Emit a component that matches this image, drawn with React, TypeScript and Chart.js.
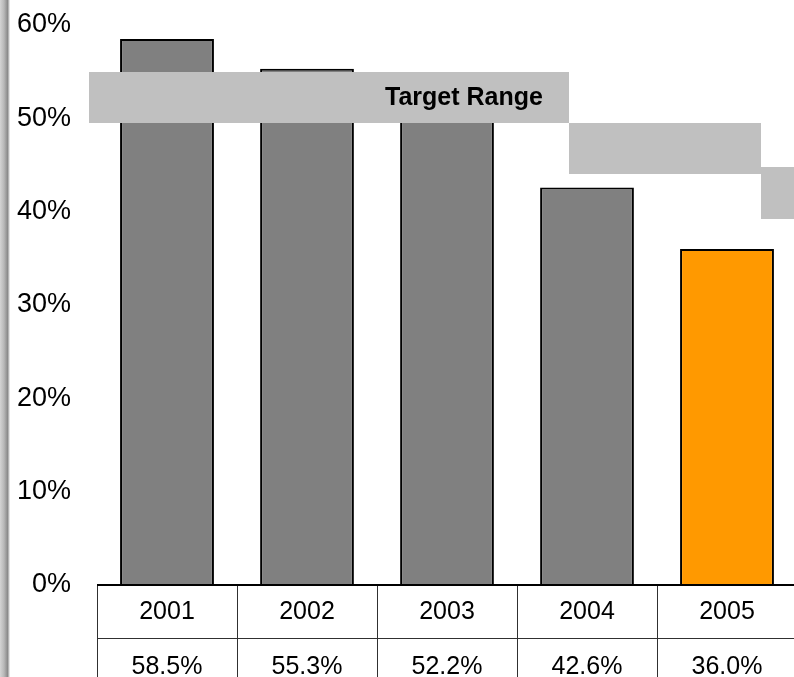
import React, { useEffect, useRef } from "react";
import { Chart, registerables } from "chart.js";

Chart.register(...registerables);

const years = ["2001", "2002", "2003", "2004", "2005"];
const shares = [58.5, 55.3, 52.2, 42.6, 36.0];
const barColors = ["#808080", "#808080", "#808080", "#808080", "#FF9900"];
const yTicks = [0, 10, 20, 30, 40, 50, 60];
const targetHigh = [55.0, 49.5, 44.8];
const targetLow = [49.5, 44.0, 39.2];
const targetLabel = "Target Range";

const FONT = "'Liberation Sans', Arial, Helvetica, sans-serif";

// band horizontal extents in category-value units (layout only)
const bandSpans: [number, number][] = [
  [-0.557, 2.871],
  [2.871, 4.243],
  [4.243, 5.5],
];

const overlayPlugin = {
  id: "overlay",
  afterDatasetsDraw(chart: any) {
    const { ctx, chartArea, scales } = chart;
    const x = scales.x;
    const y = scales.y;
    ctx.save();
    // target bands
    ctx.fillStyle = "#C0C0C0";
    targetHigh.forEach((hi, i) => {
      const x0 = x.getPixelForValue(bandSpans[i][0]);
      const x1 = x.getPixelForValue(bandSpans[i][1]);
      const y0 = y.getPixelForValue(hi);
      const y1 = y.getPixelForValue(targetLow[i]);
      ctx.fillRect(Math.round(x0), Math.round(y0), Math.round(x1 - x0), Math.round(y1 - y0));
    });
    // label
    ctx.fillStyle = "#000";
    ctx.font = `bold 25px ${FONT}`;
    ctx.textAlign = "center";
    ctx.textBaseline = "middle";
    const lx = (x.getPixelForValue(bandSpans[0][0]) + x.getPixelForValue(bandSpans[0][1])) / 2 + 135;
    const ly = (y.getPixelForValue(targetHigh[0]) + y.getPixelForValue(targetLow[0])) / 2;
    ctx.fillText(targetLabel, lx, ly + 1);

    // data table
    const bottom = chartArea.bottom;
    const rowH = 53;
    const left = chartArea.left;
    const step = x.getPixelForValue(1) - x.getPixelForValue(0);
    ctx.strokeStyle = "#303030";
    ctx.lineWidth = 1;
    ctx.beginPath();
    for (let i = 0; i <= years.length; i++) {
      const px = Math.round(left + step * i) + 0.5;
      ctx.moveTo(px, bottom);
      ctx.lineTo(px, bottom + rowH * 2 + 10);
    }
    ctx.moveTo(left, bottom + rowH + 0.5);
    ctx.lineTo(chartArea.right + 10, bottom + rowH + 0.5);
    ctx.stroke();
    // axis line
    ctx.strokeStyle = "#000";
    ctx.lineWidth = 2;
    ctx.beginPath();
    ctx.moveTo(left, bottom);
    ctx.lineTo(chartArea.right + 10, bottom);
    ctx.stroke();

    ctx.fillStyle = "#000";
    ctx.font = `25px ${FONT}`;
    years.forEach((yr, i) => {
      const cx = x.getPixelForValue(i);
      ctx.fillText(yr, cx, bottom + rowH / 2 + 1);
      ctx.fillText(shares[i].toFixed(1) + "%", cx, bottom + rowH + rowH / 2 + 3);
    });
    ctx.restore();
  },
};

export default function App() {
  const ref = useRef<HTMLCanvasElement | null>(null);
  useEffect(() => {
    if (!ref.current) return;
    const chart = new Chart(ref.current, {
      type: "bar",
      data: {
        labels: years,
        datasets: [
          {
            data: shares,
            backgroundColor: barColors,
            borderColor: "#000",
            borderWidth: 2,
            barPercentage: 0.67,
            categoryPercentage: 1,
          },
        ],
      },
      options: {
        responsive: false,
        animation: false,
        layout: { padding: { top: 25, bottom: 92, left: 0, right: 3 } },
        plugins: { legend: { display: false }, tooltip: { enabled: false }, title: { display: false } },
        scales: {
          x: { display: false, offset: true, grid: { display: false } },
          y: {
            min: 0,
            max: 60,
            afterBuildTicks: (s: any) => {
              s.ticks = yTicks.map((v) => ({ value: v }));
            },
            afterFit: (s: any) => {
              s.width = 97;
              s.paddingTop = 0;
              s.paddingBottom = 0;
            },
            border: { display: false },
            grid: { display: false, drawTicks: false },
            ticks: {
              padding: 26,
              color: "#000",
              font: { family: FONT, size: 27 },
              callback: (v: any) => v + "%",
            },
          },
        },
      },
      plugins: [overlayPlugin],
    });
    return () => chart.destroy();
  }, []);
  return (
    <div style={{ position: "fixed", left: 0, top: 0, width: 794, height: 677, overflow: "hidden", background: "#fff" }}>
      <canvas ref={ref} width={800} height={677} style={{ position: "absolute", left: 0, top: 0 }} />
      <div
        style={{
          position: "absolute",
          left: 0,
          top: 0,
          width: 10,
          height: 677,
          background: "linear-gradient(to right, #d4d4d4 0%, #b8b8b8 40%, #8c8c8c 75%, #c8c8c8 90%, #ffffff 100%)",
        }}
      />
    </div>
  );
}
